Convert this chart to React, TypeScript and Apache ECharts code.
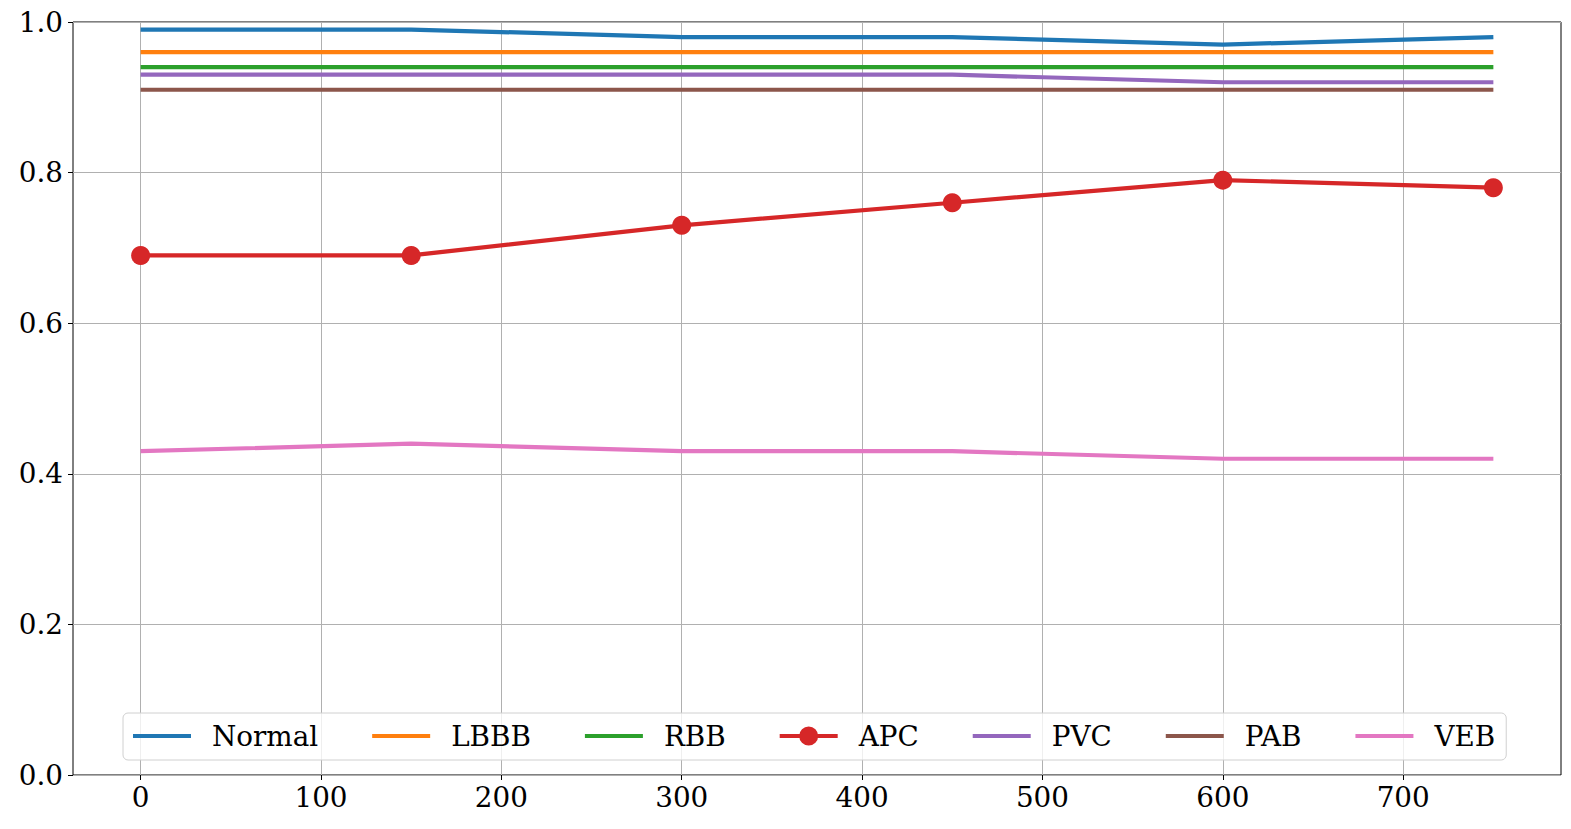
import React, { useEffect, useRef } from "react";
import * as echarts from "echarts";

const xValues = [0, 150, 300, 450, 600, 750];
const xTicks = [0, 100, 200, 300, 400, 500, 600, 700];
const seriesNames = ["Normal", "LBBB", "RBB", "APC", "PVC", "PAB", "VEB"];
const normal = [0.99, 0.99, 0.98, 0.98, 0.97, 0.98];
const lbbb = [0.96, 0.96, 0.96, 0.96, 0.96, 0.96];
const rbb = [0.94, 0.94, 0.94, 0.94, 0.94, 0.94];
const apc = [0.69, 0.69, 0.73, 0.76, 0.79, 0.78];
const pvc = [0.93, 0.93, 0.93, 0.93, 0.92, 0.92];
const pab = [0.91, 0.91, 0.91, 0.91, 0.91, 0.91];
const veb = [0.43, 0.44, 0.43, 0.43, 0.42, 0.42];
const colors = ["#1f77b4", "#ff7f0e", "#2ca02c", "#d62728", "#9467bd", "#8c564b", "#e377c2"];

const FONT = "DejaVu Serif";
const LINE_ICON = "path://M0,7.4L58,7.4L58,11.6L0,11.6Z";
const MARKER_ICON =
  "path://M0,7.4L58,7.4L58,11.6L0,11.6Z M19.5,9.5A9.5,9.5 0 1 1 38.5,9.5A9.5,9.5 0 1 1 19.5,9.5Z";

export default function App() {
  const ref = useRef<HTMLDivElement>(null);
  useEffect(() => {
    if (!ref.current) return;
    const chart = echarts.init(ref.current, undefined, { renderer: "svg" });

    const allData = [normal, lbbb, rbb, apc, pvc, pab, veb];
    const series = seriesNames.map((name, i) => ({
      name,
      type: "line",
      data: xValues.map((x, j) => [x, allData[i][j]]),
      showSymbol: name === "APC",
      symbol: name === "APC" ? "circle" : "none",
      symbolSize: 19,
      lineStyle: { width: 4.2, color: colors[i] },
      itemStyle: { color: colors[i] },
      color: colors[i],
      z: 3 + i,
    }));

    chart.setOption({
      animation: false,
      backgroundColor: "#ffffff",
      textStyle: { fontFamily: FONT },
      grid: {
        left: 73,
        right: 10,
        top: 22,
        bottom: 54,
        show: true,
        borderColor: "#000000",
        borderWidth: 1,
        backgroundColor: "transparent",
      },
      xAxis: {
        type: "value",
        min: -37.5,
        max: 787.5,
        axisLine: { show: false, onZero: false },
        axisTick: {
          show: true,
          length: 5,
          customValues: xTicks,
          lineStyle: { color: "#000", width: 1 },
        },
        axisLabel: {
          show: true,
          customValues: xTicks,
          margin: 8,
          color: "#000",
          fontFamily: FONT,
          fontSize: 27.8,
        },
        splitLine: {
          show: true,
          customValues: xTicks,
          lineStyle: { color: "#b0b0b0", width: 1 },
        },
      },
      yAxis: {
        type: "value",
        min: 0,
        max: 1,
        interval: 0.2,
        axisLine: { show: false, onZero: false },
        axisTick: { show: true, length: 5, lineStyle: { color: "#000", width: 1 } },
        axisLabel: {
          margin: 10,
          color: "#000",
          fontFamily: FONT,
          fontSize: 27.8,
          formatter: (v: number) => v.toFixed(1),
        },
        splitLine: { show: true, lineStyle: { color: "#b0b0b0", width: 1 } },
      },
      legend: {
        data: seriesNames.map((name) => ({
          name,
          icon: name === "APC" ? MARKER_ICON : LINE_ICON,
        })),
        left: 123,
        bottom: 69,
        orient: "horizontal",
        itemWidth: 58,
        itemHeight: 19,
        itemGap: 54,
        padding: [9, 11, 10, 10],
        backgroundColor: "rgba(255,255,255,0.8)",
        borderColor: "#d0d0d0",
        borderWidth: 1,
        borderRadius: 5,
        textStyle: {
          fontFamily: FONT,
          fontSize: 27.8,
          color: "#000",
          padding: [0, 0, 0, 16],
        },
      },
      series,
    });
    return () => chart.dispose();
  }, []);
  return (
    <div
      ref={ref}
      style={{ position: "fixed", left: 0, top: 0, width: 1571, height: 829 }}
    />
  );
}
